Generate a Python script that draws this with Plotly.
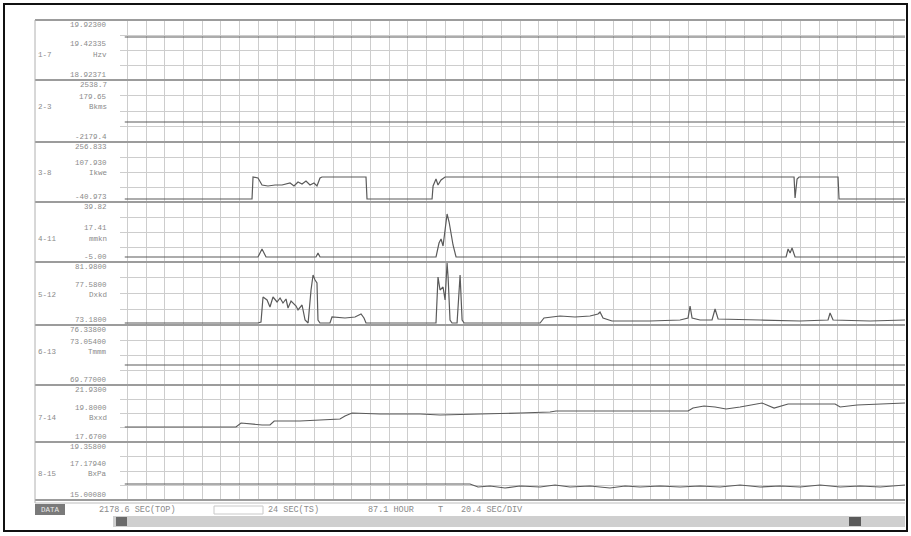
import plotly.graph_objects as go
from plotly.subplots import make_subplots

# ---------------- data (time in seconds, values in channel units) ----------------
ch_names = ["1-7", "2-3", "3-8", "4-11", "5-12", "6-13", "7-14", "8-15"]
ch_units = ["Hzv", "Bkms", "Ikwe", "mmkn", "Dxkd", "Tmmm", "Bxxd", "BxPa"]
scale_hi = [19.92300, 2538.7, 256.833, 39.82, 81.9800, 76.33800, 21.9300, 19.35800]
scale_lo = [18.92371, -2179.4, -40.973, -5.00, 73.1800, 69.77000, 17.6700, 15.00080]
label_hi = ["19.92300", "2538.7", "256.833", "39.82", "81.9800", "76.33800", "21.9300", "19.35800"]
label_mid = ["19.42335", "179.65", "107.930", "17.41", "77.5800", "73.05400", "19.8000", "17.17940"]
label_lo = ["18.92371", "-2179.4", "-40.973", "-5.00", "73.1800", "69.77000", "17.6700", "15.00080"]

t_ch1 = [-3, 848.6]
v_ch1 = [19.640, 19.640]

t_ch2 = [-3, 848.6]
v_ch2 = [-657.4, -657.4]

t_ch3 = [-3, 135.9, 137.0, 142.4, 146.8, 153.3, 161.0, 168.6, 177.4, 181.7, 186.1, 190.5,
         194.8, 199.2, 203.5, 206.8, 210.1, 212.3, 260.3, 261.4, 332.4, 333.5, 336.7, 338.9,
         342.2, 346.6, 727.5, 728.6, 730.8, 733.0, 775.5, 776.6, 848.6]
v_ch3 = [-26.08, -26.08, 83.11, 78.15, 43.40, 38.44, 43.40, 43.40, 53.33, 38.44, 58.29, 48.37,
         63.26, 43.40, 53.33, 38.44, 78.15, 83.11, 83.11, -26.08, -26.08, 38.44, 73.19, 43.40,
         68.22, 83.11, 83.11, -21.12, 73.19, 83.11, 83.11, -26.08, -26.08]

t_ch4 = [-3, 142.4, 146.8, 151.2, 205.7, 207.9, 210.1, 336.7, 340.0, 342.2, 344.4, 346.6,
         348.8, 351.0, 353.1, 355.3, 358.6, 718.8, 721.0, 723.2, 725.3, 728.6, 848.6]
v_ch4 = [-1.27, -1.27, 4.71, -1.27, -1.27, 1.72, -1.27, -1.27, 9.19, 12.18, 6.95, 18.90,
         30.86, 24.88, 16.66, 7.70, -1.27, -1.27, 4.71, 1.72, 5.46, -1.27, -1.27]

t_ch5 = [-3, 142.4, 145.7, 147.9, 152.3, 155.5, 158.8, 163.2, 166.5, 169.7, 173.0, 175.2,
         178.5, 180.7, 184.0, 186.1, 190.5, 193.8, 197.1, 200.3, 202.5, 204.7, 206.8, 207.9,
         210.1, 221.0, 223.2, 237.4, 248.3, 254.9, 258.1, 260.3, 336.7, 338.9, 341.1, 344.4,
         346.6, 348.8, 349.9, 352.0, 354.2, 359.7, 361.9, 363.0, 365.2, 367.4, 450.3, 454.6,
         472.1, 488.4, 504.8, 513.5, 515.7, 519.0, 528.8, 570.3, 603.1, 611.8, 614.0, 616.2,
         624.9, 638.0, 641.3, 644.6, 690.4, 734.1, 764.6, 766.8, 770.1, 810.5, 848.6]
v_ch5 = [73.459, 73.459, 73.599, 77.091, 76.672, 75.694, 77.091, 76.393, 76.951, 76.253,
         76.812, 75.555, 76.532, 76.253, 75.834, 75.275, 75.974, 73.878, 73.459, 78.069,
         80.164, 79.466, 79.047, 73.878, 73.459, 73.459, 74.297, 74.158, 74.297, 74.716,
         74.158, 73.459, 73.459, 79.885, 78.069, 78.488, 76.672, 81.840, 79.885, 73.878,
         73.459, 73.459, 78.767, 80.164, 73.878, 73.459, 73.459, 74.158, 74.437, 74.297,
         74.437, 74.716, 74.996, 74.158, 73.739, 73.739, 73.878, 74.158, 75.834, 74.158,
         73.878, 73.878, 75.415, 74.018, 73.878, 73.739, 73.878, 74.856, 73.878, 73.739,
         73.878]

t_ch6 = [-3, 848.6]
v_ch6 = [71.959, 71.959]

t_ch7 = [-3, 118.4, 123.9, 132.6, 146.8, 155.5, 160.1, 188.3, 221.0, 231.9, 237.4, 245.0,
         275.6, 319.3, 341.1, 395.7, 428.4, 461.2, 467.7, 515.7, 559.4, 611.8, 617.2, 629.2,
         641.3, 653.3, 668.6, 692.6, 705.7, 721.0, 772.3, 777.8, 796.3, 821.5, 848.6]
v_ch7 = [18.791, 18.791, 19.090, 19.015, 18.941, 18.941, 19.239, 19.239, 19.314, 19.389,
         19.613, 19.837, 19.763, 19.763, 19.688, 19.763, 19.837, 19.912, 19.987, 19.987,
         19.987, 19.987, 20.211, 20.361, 20.286, 20.136, 20.286, 20.585, 20.211, 20.510,
         20.510, 20.286, 20.435, 20.510, 20.585]

t_ch8 = [-3, 373.8, 382.6, 395.7, 412.0, 428.4, 450.3, 466.6, 483.0, 504.8, 526.6, 543.0,
         559.4, 581.2, 603.1, 624.9, 646.7, 668.6, 690.4, 712.2, 734.1, 755.9, 777.8, 799.6,
         821.5, 848.6]
v_ch8 = [16.2028, 16.2028, 15.9774, 16.0526, 15.9023, 16.0526, 15.9774, 16.1277, 15.9774,
         16.0526, 15.9023, 16.0526, 15.9774, 16.0526, 15.9774, 16.0526, 15.9774, 16.1277,
         15.9774, 16.0526, 15.9774, 16.1277, 15.9774, 16.0526, 15.9774, 16.1277]

status_items = ["2178.6 SEC(TOP)", "24 SEC(TS)", "87.1 HOUR", "T", "20.4 SEC/DIV"]
sec_per_div = 20.4
time_range = [-8.2, 848.6]

# ---------------- figure ----------------
W, H = 911, 536
ML, MR, MT, MB = 120, 6, 20, 36
PW, PH = W - ML - MR, H - MT - MB
row_px = [60, 62, 60, 60, 63, 60, 57, 58]


def xp(px):
    return (px - ML) / PW


def yp(py):
    return (H - MB - py) / PH


fig = make_subplots(rows=8, cols=1, shared_xaxes=True, vertical_spacing=0,
                    row_heights=row_px)

ts = [t_ch1, t_ch2, t_ch3, t_ch4, t_ch5, t_ch6, t_ch7, t_ch8]
vs = [v_ch1, v_ch2, v_ch3, v_ch4, v_ch5, v_ch6, v_ch7, v_ch8]
trace_col = "#5a5a5a"
grid_col = "#cdcdcd"
for i in range(8):
    fig.add_trace(go.Scatter(x=ts[i], y=vs[i], mode="lines",
                             line=dict(color=trace_col, width=1.2),
                             showlegend=False, hoverinfo="skip"),
                  row=i + 1, col=1)
    fig.update_xaxes(range=time_range, tick0=0, dtick=sec_per_div, showgrid=True,
                     gridcolor=grid_col, gridwidth=1, showticklabels=False,
                     zeroline=False, showline=False, ticks="", row=i + 1, col=1)
    span = scale_hi[i] - scale_lo[i]
    fig.update_yaxes(range=[scale_lo[i], scale_hi[i]], tick0=scale_lo[i], dtick=span / 4,
                     showgrid=True, gridcolor=grid_col, gridwidth=1,
                     showticklabels=False, zeroline=False, showline=False, ticks="",
                     row=i + 1, col=1)

shapes = []
bounds = [20]
for h in row_px:
    bounds.append(bounds[-1] + h)
for b in bounds:
    shapes.append(dict(type="line", xref="paper", yref="paper", x0=xp(35), x1=xp(905),
                       y0=yp(b), y1=yp(b), line=dict(color="#9c9c9c", width=2)))
shapes.append(dict(type="line", xref="paper", yref="paper", x0=xp(35), x1=xp(35),
                   y0=yp(20), y1=yp(503), line=dict(color="#b0b0b0", width=1)))
shapes.append(dict(type="line", xref="paper", yref="paper", x0=xp(35), x1=xp(905),
                   y0=yp(503), y1=yp(503), line=dict(color="#bdbdbd", width=1)))
shapes.append(dict(type="rect", xref="paper", yref="paper", x0=xp(35), x1=xp(65),
                   y0=yp(515), y1=yp(504), fillcolor="#7a7a7a", line=dict(width=0)))
shapes.append(dict(type="rect", xref="paper", yref="paper", x0=xp(214), x1=xp(263),
                   y0=yp(514), y1=yp(506), fillcolor="#ffffff",
                   line=dict(color="#c8c8c8", width=1)))
shapes.append(dict(type="rect", xref="paper", yref="paper", x0=xp(113), x1=xp(905),
                   y0=yp(527), y1=yp(516), fillcolor="#cfcfcf", line=dict(width=0)))
shapes.append(dict(type="rect", xref="paper", yref="paper", x0=xp(116), x1=xp(127),
                   y0=yp(526), y1=yp(517), fillcolor="#6a6a6a", line=dict(width=0)))
shapes.append(dict(type="rect", xref="paper", yref="paper", x0=xp(849), x1=xp(861),
                   y0=yp(526), y1=yp(517), fillcolor="#5a5a5a", line=dict(width=0)))
shapes.append(dict(type="rect", xref="paper", yref="paper", x0=xp(4), x1=xp(907),
                   y0=yp(531), y1=yp(4), line=dict(color="#111111", width=2),
                   fillcolor="rgba(0,0,0,0)"))

txt_font = dict(family="Liberation Mono", size=7.5, color="#8a8a8a")
ann = []


def add_text(s, x, y, anchor="right", font=txt_font):
    ann.append(dict(text=s, xref="paper", yref="paper", x=xp(x), y=yp(y),
                    xanchor=anchor, yanchor="middle", showarrow=False, font=font,
                    borderpad=0))


top_off = [5, 5, 5, 5, 5, 5, 5, 5]
mid_off = [24, 17, 21, 26, 23, 17, 23, 22]
unit_off = [35, 27, 31, 37, 33, 27, 33, 32]
bot_off = [5, 5, 5, 5, 5, 5, 5, 5]
for i in range(8):
    top, bot = bounds[i], bounds[i + 1]
    add_text(label_hi[i], 108, top + top_off[i])
    add_text(label_mid[i], 108, top + mid_off[i])
    add_text(ch_names[i], 37, top + unit_off[i], anchor="left")
    add_text(ch_units[i], 108, top + unit_off[i])
    add_text(label_lo[i], 108, bot - bot_off[i])

add_text("DATA", 50, 509.5, anchor="center",
         font=dict(family="Liberation Mono", size=7.5, color="#e8e8e8"))
status_x = [98, 267, 367, 437, 460]
for s, x in zip(status_items, status_x):
    add_text(s, x, 510, anchor="left",
             font=dict(family="Liberation Mono", size=8.5, color="#8a8a8a"))

fig.update_layout(width=W, height=H, margin=dict(l=ML, r=MR, t=MT, b=MB),
                  paper_bgcolor="white", plot_bgcolor="white",
                  shapes=shapes, annotations=ann, showlegend=False)

fig.write_html("out.html", config={"displayModeBar": False},
               post_script="document.body.style.margin='0';")
